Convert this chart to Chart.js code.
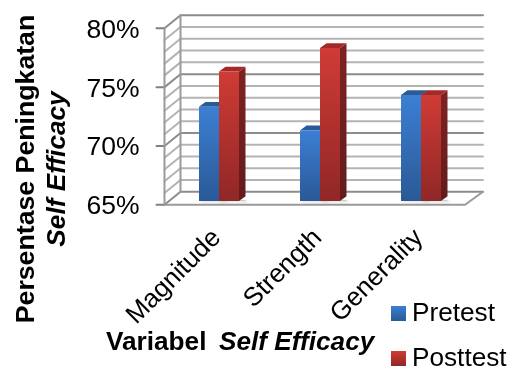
<!DOCTYPE html>
<html><head><meta charset="utf-8">
<style>html,body{margin:0;padding:0;background:#fff}#w{width:511px;height:367px;position:relative;filter:blur(0.45px)}</style>
<script src="https://cdn.jsdelivr.net/npm/chart.js@4"></script></head>
<body><div id="w"><canvas id="c" width="511" height="367"></canvas></div>
<script>
const categories = ['Magnitude','Strength','Generality'];
const pretest = [73,71,74];
const posttest = [76,78,74];
const seriesNames = ['Pretest','Posttest'];
const yMin = 65, yMax = 80;
const yTitleLines = ['Persentase Peningkatan','Self Efficacy'];
const xTitleParts = ['Variabel','Self Efficacy'];
const FONT = '"Liberation Sans", Arial, sans-serif';

const FRONT = 3.8, BACK = -9.2, WX = 16;
const AX_L = 164.5, WALL_R = 483, FLOOR_R = 465;
const DX = 6.5, DY = 4.8;

function grad(ctx, y0, y1, a, b){const g=ctx.createLinearGradient(0,y0,0,y1);g.addColorStop(0,a);g.addColorStop(1,b);return g;}
const colors=[['#3c7fd4','#2a5996'],['#d03b35','#902727']];

const scene={id:'scene',
 beforeDatasetsDraw(chart){
  const {ctx,scales:{y}}=chart;
  ctx.save();
  const yb=y.getPixelForValue(yMin);
  ctx.lineCap='round';
  for(let v=yMin;v<=yMax;v++){
   const p=y.getPixelForValue(v), major=v%5===0;
   ctx.strokeStyle=major?'#8c8c8c':'#b4b4b4';
   ctx.lineWidth=2;
   ctx.beginPath();
   ctx.moveTo(AX_L,p+FRONT);ctx.lineTo(AX_L+WX,p+BACK);ctx.lineTo(WALL_R,p+BACK);
   ctx.stroke();
   if(major){ctx.strokeStyle='#808080';ctx.beginPath();ctx.moveTo(AX_L-8,p+FRONT);ctx.lineTo(AX_L,p+FRONT);ctx.stroke();}
  }
  ctx.strokeStyle='#9a9a9a';ctx.lineWidth=2;
  ctx.beginPath();ctx.moveTo(AX_L,y.getPixelForValue(yMax)+FRONT);ctx.lineTo(AX_L,yb+FRONT);ctx.lineTo(FLOOR_R,yb+FRONT);ctx.lineTo(WALL_R,yb+BACK);ctx.stroke();
  ctx.beginPath();ctx.moveTo(AX_L+WX,y.getPixelForValue(yMax)+BACK);ctx.lineTo(AX_L+WX,yb+BACK);ctx.stroke();
  const faces=[['#2a5a98','#1f4371','#17365c'],['#a32a28','#7c2322','#631b1b']];
  chart.data.datasets.forEach((d,i)=>{
   chart.getDatasetMeta(i).data.forEach(b=>{
    const L=b.x-b.width/2,R=b.x+b.width/2,T=b.y,B=yb;
    ctx.save();ctx.shadowColor='rgba(0,0,0,.25)';ctx.shadowBlur=3;ctx.shadowOffsetX=2;ctx.shadowOffsetY=1;
    ctx.fillStyle='#ccc';ctx.fillRect(L,B-1,R-L+DX,1);ctx.restore();
    ctx.fillStyle=grad(ctx,T,B,faces[i][1],faces[i][2]);
    ctx.beginPath();ctx.moveTo(R,T);ctx.lineTo(R+DX,T-DY);ctx.lineTo(R+DX,B-DY);ctx.lineTo(R,B);ctx.closePath();ctx.fill();
    ctx.fillStyle=faces[i][0];
    ctx.beginPath();ctx.moveTo(L,T);ctx.lineTo(L+DX,T-DY);ctx.lineTo(R+DX,T-DY);ctx.lineTo(R,T);ctx.closePath();ctx.fill();
   });
  });
  ctx.restore();
 },
 afterDraw(chart){
  const ctx=chart.ctx;
  ctx.save();ctx.fillStyle='#000';ctx.textBaseline='alphabetic';
  ctx.font='bold 26.2px '+FONT;ctx.textAlign='left';
  ctx.fillText(xTitleParts[0],106,350);
  ctx.font='italic bold 26.2px '+FONT;
  ctx.fillText(xTitleParts[1],219,350);
  ctx.textAlign='center';
  ctx.save();ctx.translate(34,169);ctx.rotate(-Math.PI/2);ctx.font='bold 26.7px '+FONT;ctx.fillText(yTitleLines[0],0,0);ctx.restore();
  ctx.save();ctx.translate(65,169);ctx.rotate(-Math.PI/2);ctx.font='italic bold 26.2px '+FONT;ctx.fillText(yTitleLines[1],0,0);ctx.restore();
  ctx.textAlign='left';ctx.font='26.2px '+FONT;
  seriesNames.forEach((n,i)=>{
   const t=306+45*i;
   ctx.fillStyle=grad(ctx,t,t+15,colors[i][0],colors[i][1]);
   ctx.fillRect(391,t,15,15);
   ctx.fillStyle='#000';
   ctx.fillText(n,412,t+15);
  });
  ctx.restore();
 }
};

function barFill(i){return c=>{
  const y=c.chart.scales.y;
  if(!y||typeof c.raw!=='number') return colors[i][0];
  const a=y.getPixelForValue(c.raw), b=y.getPixelForValue(yMin);
  if(!Number.isFinite(a)||!Number.isFinite(b)) return colors[i][0];
  return grad(c.chart.ctx,a,b,colors[i][0],colors[i][1]);
};}

new Chart(document.getElementById('c'),{
 type:'bar',
 data:{labels:categories,datasets:[
  {label:seriesNames[0],data:pretest,base:yMin,backgroundColor:barFill(0),borderWidth:0},
  {label:seriesNames[1],data:posttest,base:yMin,backgroundColor:barFill(1),borderWidth:0}
 ]},
 plugins:[scene],
 options:{
  responsive:false,animation:false,
  layout:{autoPadding:false,padding:{top:24.5,right:39.5,left:0,bottom:0}},
  datasets:{bar:{categoryPercentage:0.396,barPercentage:1}},
  plugins:{title:{display:false},tooltip:{enabled:false},legend:{display:false}},
  scales:{
   x:{afterFit(s){s.height=166;s.paddingLeft=0;s.paddingRight=0;},grid:{display:false},border:{display:false},
    ticks:{color:'#000',font:{family:FONT,size:26},minRotation:45,maxRotation:45,padding:14,labelOffset:-2,autoSkip:false}},
   y:{min:yMin,max:yMax,afterFit(s){s.width=168.5;s.paddingTop=0;s.paddingBottom=0;},grid:{display:false},border:{display:false},
    ticks:{color:'#000',font:{family:FONT,size:26.5},stepSize:1,autoSkip:false,padding:21,labelOffset:6,
     callback:v=>v%5===0?v+'%':''}}
  }
 }
});
</script></body></html>
